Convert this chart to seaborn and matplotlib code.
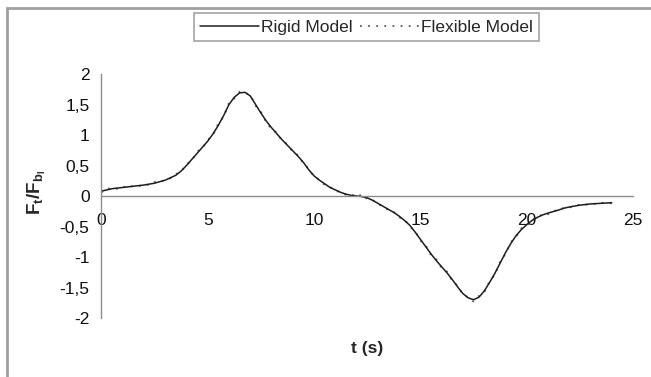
import matplotlib
matplotlib.use("Agg")
import matplotlib.pyplot as plt
from matplotlib.patches import Rectangle
from matplotlib.lines import Line2D
from matplotlib.ticker import FuncFormatter
import seaborn as sns
import pandas as pd

# Time axis (s), sampled every 0.25 s up to 22 s, then every 0.5 s
t = [0, 0.25, 0.5, 0.75, 1, 1.25, 1.5, 1.75, 2, 2.25, 2.5, 2.75, 3, 3.25,
     3.5, 3.75, 4, 4.25, 4.5, 4.75, 5, 5.25, 5.5, 5.75, 6, 6.25, 6.5, 6.75,
     7, 7.25, 7.5, 7.75, 8, 8.25, 8.5, 8.75, 9, 9.25, 9.5, 9.75, 10, 10.25,
     10.5, 10.75, 11, 11.25, 11.5, 11.75, 12, 12.25, 12.5, 12.75, 13, 13.25,
     13.5, 13.75, 14, 14.25, 14.5, 14.75, 15, 15.25, 15.5, 15.75, 16, 16.25,
     16.5, 16.75, 17, 17.25, 17.5, 17.75, 18, 18.25, 18.5, 18.75, 19, 19.25,
     19.5, 19.75, 20, 20.25, 20.5, 20.75, 21, 21.25, 21.5, 21.75, 22, 22.5,
     23, 23.5, 24]

# Normalised force Ft/Fbl, rigid model
f_rigid = [0.08, 0.10, 0.12, 0.13, 0.14, 0.15, 0.16, 0.17, 0.18, 0.195,
           0.21, 0.235, 0.26, 0.30, 0.34, 0.41, 0.50, 0.60, 0.70, 0.80, 0.90,
           1.02, 1.16, 1.32, 1.50, 1.62, 1.69, 1.70, 1.64, 1.50, 1.36, 1.23,
           1.12, 1.02, 0.92, 0.83, 0.74, 0.65, 0.55, 0.43, 0.33, 0.26, 0.20,
           0.14, 0.10, 0.06, 0.03, 0.01, 0.00, -0.01, -0.03, -0.07, -0.12,
           -0.17, -0.22, -0.27, -0.33, -0.40, -0.48, -0.59, -0.71, -0.83,
           -0.95, -1.06, -1.16, -1.26, -1.37, -1.49, -1.60, -1.67, -1.70,
           -1.66, -1.56, -1.42, -1.27, -1.10, -0.93, -0.78, -0.65, -0.55,
           -0.47, -0.40, -0.35, -0.31, -0.28, -0.255, -0.23, -0.20, -0.18,
           -0.15, -0.13, -0.12, -0.11]

# Normalised force Ft/Fbl, flexible model
f_flex = [0.06, 0.13, 0.11, 0.12, 0.16, 0.13, 0.17, 0.16, 0.19, 0.18,
          0.23, 0.22, 0.27, 0.29, 0.36, 0.40, 0.52, 0.58, 0.73, 0.78, 0.92,
          1.00, 1.19, 1.30, 1.53, 1.60, 1.71, 1.69, 1.66, 1.48, 1.38, 1.21,
          1.09, 1.04, 0.90, 0.85, 0.72, 0.67, 0.53, 0.45, 0.31, 0.27, 0.18,
          0.15, 0.08, 0.07, 0.02, 0.03, -0.02, 0.03, -0.05, -0.06, -0.14,
          -0.16, -0.24, -0.26, -0.35, -0.38, -0.50, -0.57, -0.73, -0.81,
          -0.97, -1.04, -1.18, -1.24, -1.39, -1.47, -1.62, -1.66, -1.73,
          -1.64, -1.58, -1.40, -1.29, -1.08, -0.95, -0.76, -0.67, -0.53,
          -0.49, -0.38, -0.37, -0.29, -0.30, -0.24, -0.24, -0.19, -0.19,
          -0.14, -0.14, -0.11, -0.12]

x_ticks = [0, 5, 10, 15, 20, 25]
y_ticks = [-2, -1.5, -1, -0.5, 0, 0.5, 1, 1.5, 2]
series_names = ["Rigid Model", "Flexible Model"]

sns.set_style("white")
plt.rcParams["font.family"] = ["Liberation Sans", "DejaVu Sans"]
plt.rcParams["mathtext.fontset"] = "custom"
plt.rcParams["mathtext.rm"] = "Liberation Sans"
plt.rcParams["mathtext.it"] = "Liberation Sans:bold"
plt.rcParams["mathtext.bf"] = "Liberation Sans:bold"

DOTS = (0, (1.0, 3.5))
FLEX_COLOR = "#5a5a5a"

fig = plt.figure(figsize=(6.51, 3.77), dpi=100)
fig.patch.set_facecolor("white")
ax = fig.add_axes([0.1558, 0.1565, 0.8166, 0.6472])

data = pd.DataFrame({"t": t, "rigid": f_rigid, "flex": f_flex})

sns.lineplot(data=data, x="t", y="flex", ax=ax, color=FLEX_COLOR,
             linestyle=DOTS, linewidth=1.3, sort=False)
sns.lineplot(data=data, x="t", y="rigid", ax=ax, color="#1e1e1e",
             linewidth=1.1, sort=False)

ax.set_xlim(0, 25)
ax.set_ylim(-2, 2)
ax.set_xticks(x_ticks)
ax.set_yticks(y_ticks)
ax.yaxis.set_major_formatter(
    FuncFormatter(lambda v, _: f"{v:g}".replace(".", ",")))

for side in ("top", "right"):
    ax.spines[side].set_visible(False)
ax.spines["bottom"].set_position(("data", 0))
for side in ("left", "bottom"):
    ax.spines[side].set_color("#8c8c8c")
    ax.spines[side].set_linewidth(1.0)

ax.tick_params(axis="both", which="major", direction="out", length=4,
               width=1.0, color="#8c8c8c", labelsize=12.5, labelcolor="#111111")
ax.tick_params(axis="x", pad=8)
ax.tick_params(axis="y", pad=4.5)
ax.set_facecolor("white")

ax.set_xlabel("t (s)", fontsize=12.5, fontweight="bold")
ax.xaxis.label.set_va("center")
ax.xaxis.set_label_coords(0.5, -0.123)
ax.set_ylabel(r"$\mathbf{F_t/F_{b_l}}$", fontsize=13.5)
ax.yaxis.label.set_va("center")
ax.yaxis.set_label_coords(-0.121, 0.516)

handles = [Line2D([], [], color="#1e1e1e", linewidth=1.1),
           Line2D([], [], color=FLEX_COLOR, linewidth=1.3, linestyle=DOTS)]
leg = fig.legend(handles, series_names, loc="center",
                 bbox_to_anchor=(0.563, 0.928), ncol=2, fontsize=12.5,
                 frameon=True, fancybox=False, handlelength=3.4,
                 handletextpad=0.15, columnspacing=0.4, borderpad=0.35,
                 borderaxespad=0)
leg.get_frame().set_edgecolor("#8c8c8c")
leg.get_frame().set_linewidth(1.2)

# chart-area border
fig.patches.append(Rectangle((7 / 651, -0.05), 1.1, 1 - 8 / 377 + 0.05,
                             transform=fig.transFigure, fill=False,
                             edgecolor="#a0a0a0", linewidth=2.0))

fig.savefig("out.png", dpi=100, facecolor="white")
